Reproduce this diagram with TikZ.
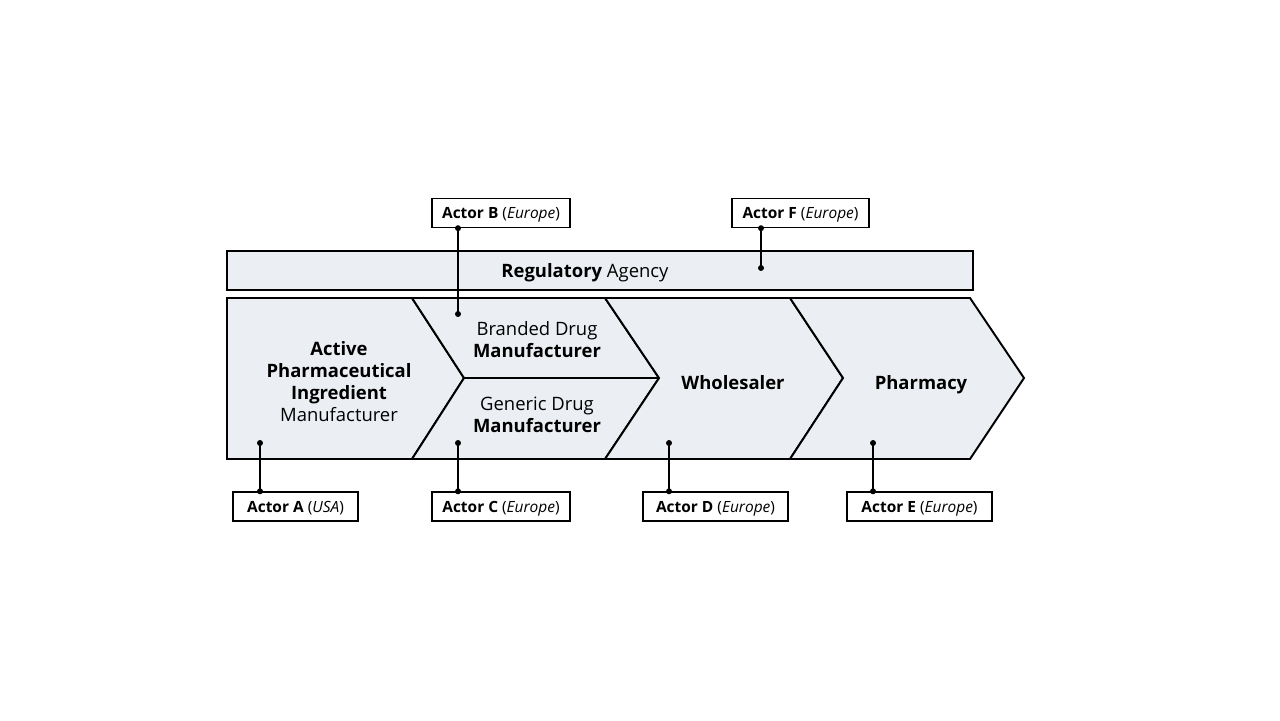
\documentclass[tikz,border=0pt]{standalone}
\usepackage{fontspec}
\setmainfont{Open Sans}
\usepackage{xcolor}
\usetikzlibrary{positioning,calc}
\definecolor{stagefill}{RGB}{235,239,243}

\begin{document}
\begin{tikzpicture}[x=0.02cm, y=-0.02cm,
        every node/.style={font=\fontsize{10.5}{12.5}\selectfont},
        stage/.style={draw, line width=1.1pt, fill=stagefill, line join=miter},
        lbl/.style={align=center, inner sep=0pt},
        actor/.style={draw, line width=0.8pt, fill=white, minimum height=0.58cm, inner sep=2pt, text depth=0pt, font=\fontsize{8.8}{10}\selectfont},
        pin/.style={line width=0.6pt}]
    \useasboundingbox (0,0) rectangle (1280,720);

    % regulator band
    \draw[stage] (227,251) rectangle (973,290);
    \node[lbl] (reg) at (585,273) {\textbf{Regulatory} Agency};

    % value chain
    \draw[stage] (227,298) -- (412,298) -- (464,378) -- (412,459) -- (227,459) -- cycle;
    \draw[stage] (412,298) -- (605,298) -- (659,378) -- (464,378) -- cycle;
    \draw[stage] (464,378) -- (659,378) -- (605,459) -- (412,459) -- cycle;
    \draw[stage] (605,298) -- (790,298) -- (843,378) -- (790,459) -- (605,459) -- (659,378) -- cycle;
    \draw[stage] (790,298) -- (970,298) -- (1024,378) -- (970,459) -- (790,459) -- (843,378) -- cycle;

    \node[lbl] (api) at (339,382) {\textbf{Active}\\\textbf{Pharmaceutical}\\\textbf{Ingredient}\\Manufacturer};
    \node[lbl] (brand) at (537,340) {Branded Drug\\\textbf{Manufacturer}};
    \node[lbl] (gen) at (537,415) {Generic Drug\\\textbf{Manufacturer}};
    \node[lbl] (whole) at (733,383) {\textbf{Wholesaler}};
    \node[lbl] (pharm) at (921,385) {\textbf{Pharmacy}};

    % actors
    \node[actor, minimum width=2.76cm] (actB) at (501,213) {\textbf{Actor B} (\textit{Europe})};
    \node[actor, minimum width=2.74cm] (actF) at (800.5,213) {\textbf{Actor F} (\textit{Europe})};
    \node[actor, minimum width=2.5cm] (actA) at (295.5,506.5) {\textbf{Actor A} (\textit{USA})};
    \node[actor, minimum width=2.76cm] (actC) at (501,506.5) {\textbf{Actor C} (\textit{Europe})};
    \node[actor, minimum width=2.9cm] (actD) at (715.5,506.5) {\textbf{Actor D} (\textit{Europe})};
    \node[actor, minimum width=2.9cm] (actE) at (919.5,506.5) {\textbf{Actor E} (\textit{Europe})};

    \coordinate (pA) at (260,443);
    \coordinate (pB) at (458,314);
    \coordinate (pC) at (458,443);
    \coordinate (pD) at (669,443);
    \coordinate (pE) at (873,443);
    \coordinate (pF) at (761,268);

    \foreach \p/\a/\s in {pA/actA/north, pC/actC/north, pD/actD/north, pE/actE/north, pB/actB/south, pF/actF/south} {
        \draw[pin] (\p) -- (\p |- \a.\s);
        \fill (\p) circle (1.7pt) (\p |- \a.\s) circle (1.7pt);
    }
\end{tikzpicture}
\end{document}
